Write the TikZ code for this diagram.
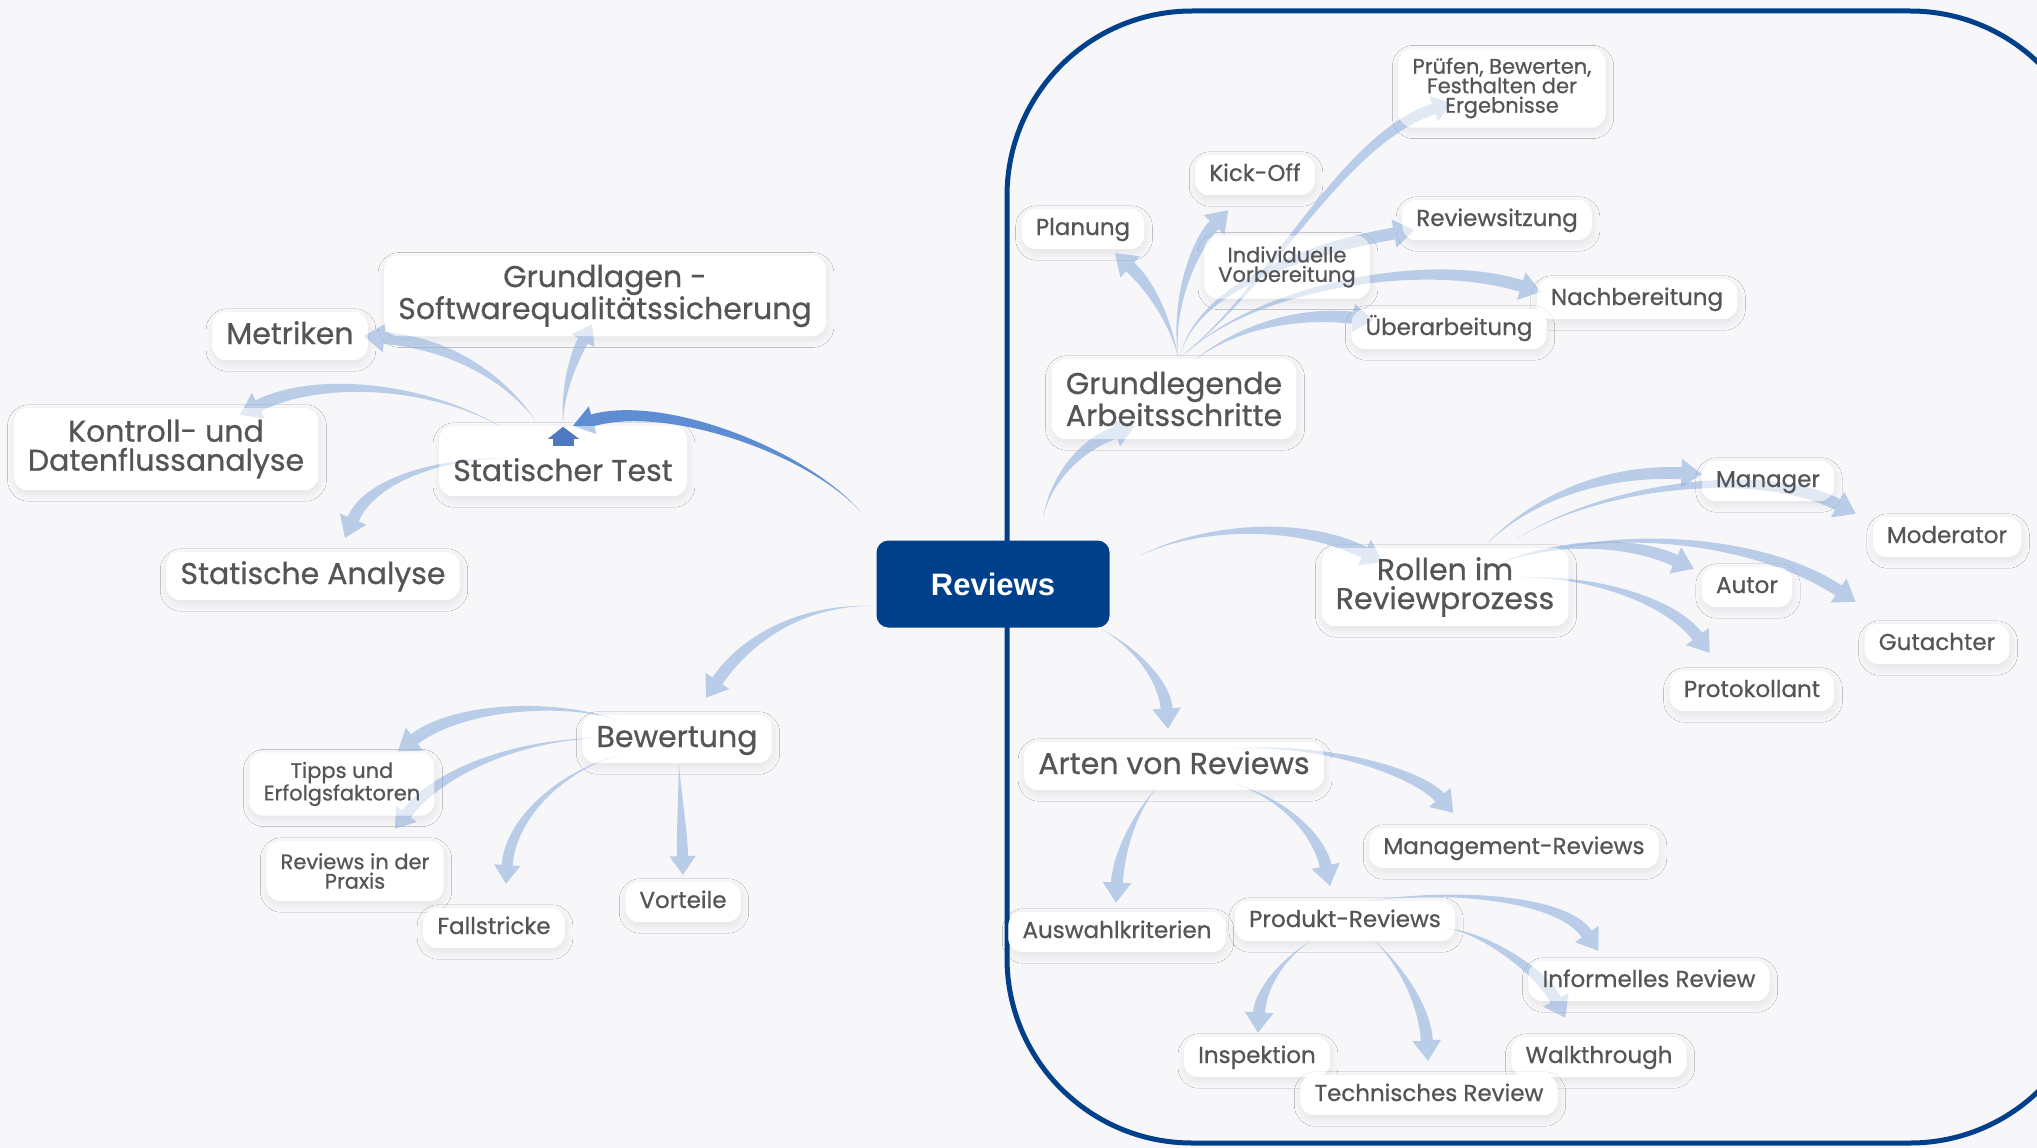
\documentclass[tikz,border=0pt]{standalone}
\usepackage{fontspec}
\setmainfont{Poppins}[RawFeature={embolden=0.7}]
\newfontfamily\revfont{Liberation Sans}
\usetikzlibrary{calc,shadows.blur}

\definecolor{bgcol}{RGB}{247,247,249}
\definecolor{navy}{RGB}{0,63,138}
\definecolor{txtgray}{RGB}{85,85,88}
\definecolor{quillblue}{RGB}{150,180,222}
\definecolor{quilldark}{RGB}{86,136,210}
\definecolor{housecol}{RGB}{78,120,192}

\pgfdeclarelayer{bg}
\pgfdeclarelayer{links}
\pgfsetlayers{bg,links,main}

\tikzset{
  box/.style={draw=none, fill=white, fill opacity=0.55, text opacity=1,
    text=txtgray, rounded corners=14pt, inner xsep=14pt, inner ysep=9pt,
    align=center},
  bigbox/.style={box, font=\fontsize{30}{29}\selectfont},
  big1/.style={bigbox, text height=23pt, text depth=7pt},
  leaf/.style={box, font=\fontsize{23}{24}\selectfont, text height=17pt, text depth=5pt},
  tiny/.style={box, font=\fontsize{21}{19.5}\selectfont},
  revbox/.style={fill=navy, text=white, rounded corners=12pt,
    minimum width=233pt, minimum height=87pt,
    font=\revfont\bfseries\fontsize{31}{31}\selectfont},
  boxshadow/.style={fill=white, rounded corners=14pt,
    blur shadow={shadow xshift=1pt, shadow yshift=-4pt, shadow blur radius=7pt,
      shadow opacity=8, shadow blur steps=12}},
  quillfill/.style={fill=quillblue, fill opacity=0.62},
  quilldarkfill/.style={fill=quilldark, fill opacity=0.95},
}

% Tapered branch: #2 start, #3/#4 control points, #5 arrow tip, #6 half width at the head
\newcommand\quill[6][quillfill]{%
  \path[#1] let \p1=#2, \p2=#3, \p3=#4, \p4=#5,
    \n1={veclen((\x4)-(\x3),(\y4)-(\y3))},
    \p5=({-#6*((\y4)-(\y3))/\n1},{#6*((\x4)-(\x3))/\n1}),
    \p6=({3.4*#6*((\x4)-(\x3))/\n1},{3.4*#6*((\y4)-(\y3))/\n1}),
    \p7=($(\p4)-(\p6)$)
  in (\p1) .. controls ($(\p2)+0.35*(\p5)$) and ($(\p3)+(\p5)$) .. ($(\p7)+(\p5)$)
     -- ($(\p7)+2.4*(\p5)$) -- (\p4) -- ($(\p7)-2.4*(\p5)$) -- ($(\p7)-(\p5)$)
     .. controls ($(\p3)-(\p5)$) and ($(\p2)-0.35*(\p5)$) .. (\p1) -- cycle;%
}

\begin{document}
\begin{tikzpicture}[x=1pt,y=-1pt]
\useasboundingbox (0,0) rectangle (2037,1148);

% ---- topic boxes ----
\node[bigbox, minimum height=80pt] (grund) at (605,296) {Grundlagen -\\Softwarequalitätssicherung};
\node[big1] (metr) at (290,336) {Metriken};
\node[bigbox, minimum height=82pt] (kontr) at (166,449) {Kontroll- und\\Datenflussanalyse};
\node[bigbox, text height=46pt, text depth=6pt] (stat) at (563,461) {Statischer Test};
\node[big1] (sana) at (313,576) {Statische Analyse};
\node[big1] (bew) at (677,739) {Bewertung};
\node[tiny, minimum height=63pt] (tipps) at (342,784) {Tipps und\\Erfolgsfaktoren};
\node[tiny, minimum height=60pt] (praxis) at (355,871) {Reviews in der\\Praxis};
\node[leaf] (fall) at (494,928) {Fallstricke};
\node[leaf] (vort) at (683,902) {Vorteile};

\node[revbox] (rev) at (993,584) {Reviews};

\node[tiny, minimum height=78pt] (pruef) at (1502,88) {Prüfen, Bewerten,\\Festhalten der\\Ergebnisse};
\node[leaf] (kick) at (1255,175) {Kick-Off};
\node[leaf] (plan) at (1083,229) {Planung};
\node[leaf] (sitz) at (1497,220) {Reviewsitzung};
\node[tiny, minimum height=63pt] (indiv) at (1287,267) {Individuelle\\Vorbereitung};
\node[leaf] (nach) at (1637,299) {Nachbereitung};
\node[leaf] (ueber) at (1449,329) {Überarbeitung};
\node[bigbox, minimum height=80pt] (grdl) at (1174,399) {Grundlegende\\Arbeitsschritte};
\node[leaf] (mgr) at (1768,481) {Manager};
\node[leaf] (mod) at (1947,537) {Moderator};
\node[bigbox, minimum height=78pt] (rollen) at (1445,587) {Rollen im\\Reviewprozess};
\node[leaf] (autor) at (1747,587) {Autor};
\node[leaf] (gut) at (1937,644) {Gutachter};
\node[leaf] (proto) at (1752,691) {Protokollant};
\node[big1] (arten) at (1174,766) {Arten von Reviews};
\node[leaf] (mgmt) at (1514,848) {Management-Reviews};
\node[leaf] (ausw) at (1117,932) {Auswahlkriterien};
\node[leaf] (prod) at (1345,921) {Produkt-Reviews};
\node[leaf] (inf) at (1649,981) {Informelles Review};
\node[leaf] (insp) at (1257,1057) {Inspektion};
\node[leaf] (walk) at (1599,1057) {Walkthrough};
\node[leaf] (tech) at (1429,1095) {Technisches Review};

% small marker on top of "Statischer Test"
\fill[housecol] ($(stat.north)+(-15,13)$) -- ($(stat.north)+(0,1)$) -- ($(stat.north)+(16,13)$) -- cycle;
\fill[housecol] ($(stat.north)+(-10,10)$) rectangle ($(stat.north)+(11,20)$);

% ---- background, frame and box shadows ----
\begin{pgfonlayer}{bg}
  \fill[bgcol] (0,0) rectangle (2037,1148);
  \draw[navy, line width=5pt, rounded corners=185pt] (1007,11) rectangle (2095,1143);
  \foreach \n in {grund,metr,kontr,stat,sana,bew,tipps,praxis,fall,vort,
                  pruef,kick,plan,sitz,indiv,nach,ueber,grdl,mgr,mod,rollen,
                  autor,gut,proto,arten,mgmt,ausw,prod,inf,insp,walk,tech}
    \path[boxshadow] (\n.south west) rectangle (\n.north east);
\end{pgfonlayer}

% ---- branches ----
\begin{pgfonlayer}{links}
  % left half
  \quill[quilldarkfill]{($(rev.north west)+(-16,-29)$)}{(805,450)}{(665,400)}{($(stat.north)+(10,0)$)}{6}
  \quill{($(stat.north)+(0,-2)$)}{(562,390)}{(575,355)}{($(grund.south)+(-13,-12)$)}{5.5}
  \quill{($(stat.north)+(-28,-6)$)}{(510,385)}{(460,345)}{($(metr.east)+(-4,0)$)}{6}
  \quill{($(stat.north west)+(64,2)$)}{(430,385)}{(320,375)}{($(kontr.north)+(74,7)$)}{6}
  \quill{($(stat.west)+(69,-3)$)}{(440,458)}{(370,480)}{($(sana.north)+(32,-14)$)}{6}
  \quill{($(rev.west)+(-6,22)$)}{(800,605)}{(745,640)}{($(bew.north)+(29,-17)$)}{6}
  \quill{($(bew.north west)+(38,6)$)}{(560,700)}{(460,705)}{($(tipps.north)+(56,-1)$)}{6}
  \quill{($(bew.west)+(16,-1)$)}{(520,740)}{(440,770)}{($(praxis.north)+(40,-12)$)}{5.5}
  \quill{($(bew.south west)+(40,-9)$)}{(560,770)}{(510,820)}{($(fall.north)+(12,-24)$)}{5.5}
  \quill{($(bew.south)+(2,1)$)}{(680,800)}{(682,830)}{($(vort.north)+(0,-7)$)}{5.5}
  % working steps
  \quill{($(rev.north)+(50,-22)$)}{(1050,480)}{(1080,445)}{($(grdl.south west)+(83,-13)$)}{6}
  \quill{($(grdl.north)+(4,-2)$)}{(1170,320)}{(1150,285)}{($(plan.south)+(32,4)$)}{6}
  \quill{($(grdl.north)+(4,-2)$)}{(1172,300)}{(1195,245)}{($(kick.south west)+(33,15)$)}{6}
  \quill{($(grdl.north)+(6,-2)$)}{(1270,290)}{(1340,140)}{($(pruef.west)+(53,15)$)}{5.5}
  \quill{($(grdl.north)+(6,-2)$)}{(1195,290)}{(1300,250)}{($(sitz.west)+(12,10)$)}{6}
  \quill{($(grdl.north)+(11,-4)$)}{(1250,290)}{(1420,255)}{($(nach.west)+(4,-7)$)}{6}
  \quill{($(grdl.north)+(21,1)$)}{(1240,325)}{(1300,312)}{($(ueber.west)+(22,-9)$)}{6}
  % roles
  \quill{($(rev.north east)+(29,16)$)}{(1200,525)}{(1300,520)}{($(rollen.north west)+(61,14)$)}{6}
  \quill{($(rollen.north)+(41,-3)$)}{(1530,500)}{(1600,470)}{($(mgr.west)+(0,-7)$)}{6}
  \quill{($(rollen.north)+(70,-8)$)}{(1600,485)}{(1760,465)}{($(mod.north west)+(-17,-3)$)}{6}
  \quill{($(rollen.north)+(55,15)$)}{(1560,540)}{(1630,540)}{($(autor.north west)+(-8,2)$)}{6}
  \quill{($(rollen.north)+(85,7)$)}{(1640,525)}{(1770,545)}{($(gut.north west)+(-9,-22)$)}{6}
  \quill{($(rollen.north)+(75,30)$)}{(1590,575)}{(1670,600)}{($(proto.north west)+(40,-18)$)}{6}
  % kinds of reviews
  \quill{($(rev.south east)+(-9,1)$)}{(1140,650)}{(1165,685)}{($(arten.north)+(-6,-13)$)}{6}
  \quill{($(arten.north)+(56,7)$)}{(1330,742)}{(1420,775)}{($(mgmt.north west)+(84,-15)$)}{6}
  \quill{($(arten.south)+(56,-8)$)}{(1290,800)}{(1320,840)}{($(prod.north)+(-15,-15)$)}{6}
  \quill{($(arten.south)+(-18,-2)$)}{(1130,820)}{(1118,860)}{($(ausw.north)+(-1,-9)$)}{6}
  \quill{($(prod.north)+(25,0)$)}{(1440,890)}{(1560,895)}{($(inf.north west)+(70,-10)$)}{6}
  \quill{($(prod.east)+(-12,7)$)}{(1480,930)}{(1540,970)}{($(walk.north west)+(54,-19)$)}{6}
  \quill{($(prod.south)+(-35,0)$)}{(1275,965)}{(1260,995)}{($(insp.north)+(1,-4)$)}{6}
  \quill{($(prod.south)+(30,0)$)}{(1405,970)}{(1425,1010)}{($(tech.north)+(-1,-14)$)}{6}
\end{pgfonlayer}
\end{tikzpicture}
\end{document}
